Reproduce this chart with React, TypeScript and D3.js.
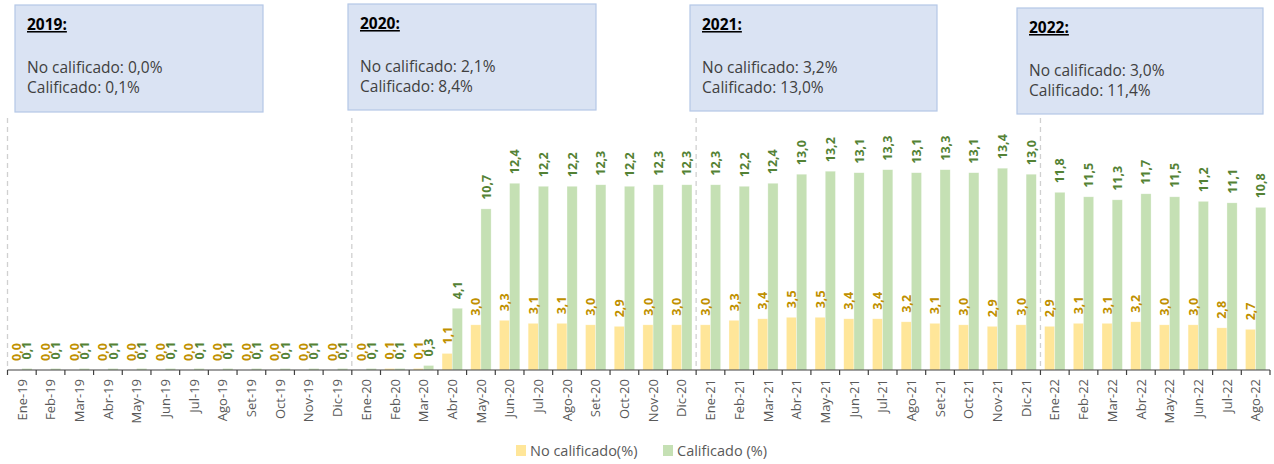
import React from "react";
import * as d3 from "d3";

const months = [
  "Ene-19","Feb-19","Mar-19","Abr-19","May-19","Jun-19","Jul-19","Ago-19","Set-19","Oct-19","Nov-19","Dic-19",
  "Ene-20","Feb-20","Mar-20","Abr-20","May-20","Jun-20","Jul-20","Ago-20","Set-20","Oct-20","Nov-20","Dic-20",
  "Ene-21","Feb-21","Mar-21","Abr-21","May-21","Jun-21","Jul-21","Ago-21","Set-21","Oct-21","Nov-21","Dic-21",
  "Ene-22","Feb-22","Mar-22","Abr-22","May-22","Jun-22","Jul-22","Ago-22",
];

const noCalificado = [
  0.0,0.0,0.0,0.0,0.0,0.0,0.0,0.0,0.0,0.0,0.0,0.0,
  0.0,0.1,0.1,1.1,3.0,3.3,3.1,3.1,3.0,2.9,3.0,3.0,
  3.0,3.3,3.4,3.5,3.5,3.4,3.4,3.2,3.1,3.0,2.9,3.0,
  2.9,3.1,3.1,3.2,3.0,3.0,2.8,2.7,
];

const calificado = [
  0.1,0.1,0.1,0.1,0.1,0.1,0.1,0.1,0.1,0.1,0.1,0.1,
  0.1,0.1,0.3,4.1,10.7,12.4,12.2,12.2,12.3,12.2,12.3,12.3,
  12.3,12.2,12.4,13.0,13.2,13.1,13.3,13.1,13.3,13.1,13.4,13.0,
  11.8,11.5,11.3,11.7,11.5,11.2,11.1,10.8,
];

const seriesNames = ["No calificado(%)", "Calificado (%)"];
const seriesKeys = ["no", "cal"];

const yearBoxes = [
  { title: "2019:", lines: ["No calificado: 0,0%", "Calificado: 0,1%"] },
  { title: "2020:", lines: ["No calificado: 2,1%", "Calificado: 8,4%"] },
  { title: "2021:", lines: ["No calificado: 3,2%", "Calificado: 13,0%"] },
  { title: "2022:", lines: ["No calificado: 3,0%", "Calificado: 11,4%"] },
];
const yearStarts = ["Ene-19", "Ene-20", "Ene-21", "Ene-22"];

const boxGeom = [
  { x: 15, y: 5, w: 248, h: 107, tb: 30, l1: 73, l2: 93 },
  { x: 348, y: 4, w: 248, h: 106, tb: 29, l1: 72, l2: 92 },
  { x: 690, y: 5, w: 247, h: 106, tb: 30, l1: 73, l2: 93 },
  { x: 1017, y: 8, w: 246, h: 106, tb: 33, l1: 75.5, l2: 95.5 },
];

const colors = { no: "#FFE699", cal: "#C5E0B4" };
const labelColors = { no: "#BF9000", cal: "#548235" };
const FONT = "'Open Sans', 'Noto Sans', sans-serif";
const fmt = (v: number) => v.toFixed(1).replace(".", ",");

export default function App() {
  const W = 1274, H = 464;
  const baseY = 370;
  const x0 = d3.scaleBand<string>().domain(months).range([7.5, 1270]).padding(0);
  const bw = x0.bandwidth();
  const x1 = d3.scaleBand<string>().domain(seriesKeys).range([bw * 0.145, bw * 0.855]).padding(0);
  const y = d3.scaleLinear().domain([0, 15]).range([baseY, baseY - 15 * 15.06]);

  const data = months.map((m, i) => ({ m, no: noCalificado[i], cal: calificado[i] }));

  return (
    <svg width={W} height={H} style={{ position: "absolute", left: 0, top: 0 }}>
      <rect x={0} y={0} width={W} height={H} fill="#fff" />
      {/* year separators */}
      {yearStarts.map((m) => (
        <line key={m} x1={x0(m)!} x2={x0(m)!} y1={118} y2={baseY}
          stroke="#D0D0D0" strokeWidth={1.3} strokeDasharray="5,4" />
      ))}
      {/* bars */}
      {data.map((d) => (
        <g key={d.m} transform={`translate(${x0(d.m)},0)`}>
          {seriesKeys.map((k) => {
            const v = (d as any)[k] as number;
            return (
              <rect key={k} x={x1(k)!} y={y(v)} width={x1.bandwidth()} height={baseY - y(v)}
                fill={(colors as any)[k]} stroke="#ffffff" strokeOpacity={0.5} strokeWidth={0.6} />
            );
          })}
        </g>
      ))}
      {/* value labels */}
      {data.map((d) => (
        <g key={"l" + d.m} transform={`translate(${x0(d.m)},0)`}>
          {seriesKeys.map((k) => {
            const v = (d as any)[k] as number;
            const cx = x1(k)! + x1.bandwidth() / 2;
            return (
              <text key={k} transform={`translate(${cx},${y(v) - 9}) rotate(-90)`} dy="0.36em"
                fontFamily={FONT} fontSize={12.5} fontWeight={700} fill={(labelColors as any)[k]}>
                {fmt(v)}
              </text>
            );
          })}
        </g>
      ))}
      {/* axis */}
      <line x1={7.5} x2={1270} y1={baseY} y2={baseY} stroke="#404040" strokeWidth={1.2} />
      {months.concat(["end"]).map((m, i) => {
        const xx = i < months.length ? x0(m)! : 1270;
        return <line key={"t" + i} x1={xx} x2={xx} y1={baseY} y2={baseY + 5} stroke="#404040" strokeWidth={1.2} />;
      })}
      {months.map((m) => (
        <text key={"x" + m} transform={`translate(${x0(m)! + bw / 2},${baseY + 9}) rotate(-90)`}
          dy="0.36em" textAnchor="end" fontFamily={FONT} fontSize={13} fill="#595959">
          {m}
        </text>
      ))}
      {/* boxes */}
      {yearBoxes.map((b, i) => {
        const g = boxGeom[i];
        return (
          <g key={b.title}>
            <rect x={g.x} y={g.y} width={g.w} height={g.h} fill="#DAE3F3" stroke="#B4C7E7" strokeWidth={1.2} />
            <text x={g.x + 12} y={g.tb} fontFamily={FONT} fontSize={15.5} fontWeight={700}
              fill="#000" textDecoration="underline">{b.title}</text>
            <text x={g.x + 12} y={g.l1} fontFamily={FONT} fontSize={15.5} fill="#404040">{b.lines[0]}</text>
            <text x={g.x + 12} y={g.l2} fontFamily={FONT} fontSize={15.5} fill="#404040">{b.lines[1]}</text>
          </g>
        );
      })}
      {/* legend */}
      {seriesKeys.map((k, i) => {
        const lx = i === 0 ? 516 : 663;
        return (
          <g key={"lg" + k}>
            <rect x={lx} y={445} width={10} height={11} fill={(colors as any)[k]} />
            <text x={lx + 14} y={456} fontFamily={FONT} fontSize={14.5} fill="#595959">{seriesNames[i]}</text>
          </g>
        );
      })}
    </svg>
  );
}
